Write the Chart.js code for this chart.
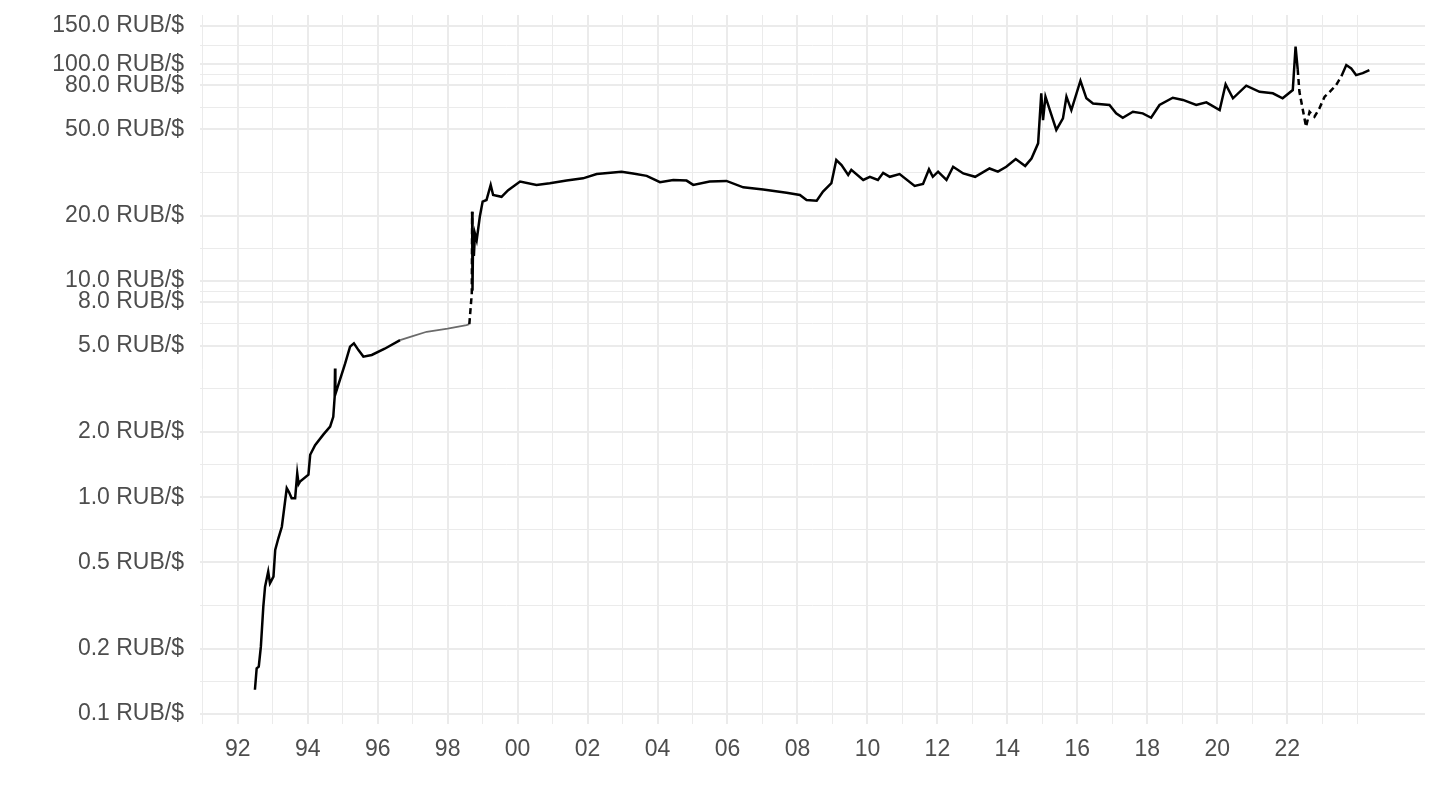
<!DOCTYPE html>
<html>
<head>
<meta charset="utf-8">
<script src="https://cdn.jsdelivr.net/npm/chart.js@4/dist/chart.umd.min.js"></script>
<style>
  html, body { margin: 0; padding: 0; background: #fff; }
  #wrap { width: 1440px; height: 810px; }
</style>
</head>
<body>
<div id="wrap"><canvas id="rubChart" width="1440" height="810"></canvas></div>
<script>
const dates = [
  1992.49, 1992.54, 1992.60, 1992.66, 1992.73, 1992.78, 1992.87, 1992.92, 1993.02, 1993.07,
  1993.16, 1993.26, 1993.40, 1993.47, 1993.54, 1993.64, 1993.70, 1993.74, 1993.78, 1994.02,
  1994.07, 1994.21, 1994.45, 1994.64, 1994.73, 1994.77, 1994.78, 1994.79, 1994.92, 1995.07,
  1995.21, 1995.32, 1995.45, 1995.59, 1995.83, 1996.20, 1996.64, 1997.00, 1997.40, 1998.00,
  1998.54, 1998.62, 1998.69, 1998.70, 1998.71, 1998.73, 1998.75, 1998.78, 1998.83, 1998.92,
  1999.00, 1999.11, 1999.23, 1999.30, 1999.54, 1999.73, 2000.07, 2000.54, 2000.92, 2001.40,
  2001.87, 2002.26, 2002.97, 2003.30, 2003.69, 2004.07, 2004.45, 2004.83, 2005.02, 2005.49,
  2005.97, 2006.45, 2007.02, 2007.69, 2008.07, 2008.26, 2008.55, 2008.73, 2008.97, 2009.11,
  2009.26, 2009.45, 2009.54, 2009.88, 2010.07, 2010.30, 2010.45, 2010.64, 2010.92, 2011.35,
  2011.59, 2011.76, 2011.87, 2012.02, 2012.26, 2012.45, 2012.74, 2013.08, 2013.49, 2013.73,
  2013.97, 2014.24, 2014.51, 2014.69, 2014.88, 2014.97, 2015.02, 2015.09, 2015.40, 2015.59,
  2015.69, 2015.83, 2016.09, 2016.26, 2016.45, 2016.92, 2017.11, 2017.30, 2017.59, 2017.87,
  2018.11, 2018.35, 2018.73, 2019.02, 2019.40, 2019.69, 2020.07, 2020.24, 2020.45, 2020.83,
  2021.21, 2021.59, 2021.87, 2022.16, 2022.24, 2022.30, 2022.35, 2022.44, 2022.54, 2022.64,
  2022.78, 2022.92, 2023.07, 2023.20, 2023.40, 2023.55, 2023.69, 2023.83, 2023.97, 2024.16,
  2024.35
];
// RUB per USD
const rubPerUsd = [
  0.129, 0.162, 0.165, 0.204, 0.312, 0.386, 0.453, 0.40, 0.43, 0.57,
  0.646, 0.73, 1.10, 1.05, 0.99, 0.99, 1.29, 1.15, 1.18, 1.27,
  1.57, 1.74, 1.95, 2.12, 2.35, 2.91, 3.93, 2.99, 3.48, 4.15,
  4.96, 5.14, 4.78, 4.46, 4.54, 4.85, 5.32, 5.55, 5.81, 6.00,
  6.24, 6.30, 8.75, 20.8, 9.0, 17.0, 13.0, 16.5, 15.4, 19.8,
  23.2, 23.6, 27.7, 24.9, 24.4, 26.2, 28.7, 27.7, 28.2, 29.0,
  29.7, 31.1, 31.9, 31.3, 30.5, 28.5, 29.2, 29.0, 27.7, 28.7,
  28.9, 27.0, 26.4, 25.5, 24.9, 23.6, 23.4, 25.8, 28.2, 36.1,
  34.2, 30.8, 32.5, 29.2, 30.2, 29.2, 31.5, 30.2, 31.1, 27.4,
  28.0, 32.7, 30.2, 31.9, 29.2, 33.6, 31.3, 30.2, 33.0, 31.9,
  33.6, 36.5, 33.9, 36.7, 43.1, 73.4, 55.2, 70.8, 49.7, 56.2,
  70.8, 61.4, 83.9, 69.6, 65.9, 64.8, 59.3, 56.6, 60.3, 59.3,
  56.6, 64.8, 70.0, 68.4, 64.8, 66.7, 61.4, 80.8, 69.6, 79.6,
  74.6, 73.4, 69.6, 76.0, 120.5, 95.0, 74.6, 62.5, 51.4, 60.3,
  57.2, 62.5, 70.8, 74.0, 80.2, 88.0, 99.1, 95.7, 89.1, 91.0,
  94.0
];

// axis breaks
const yBreaks = [0.1, 0.2, 0.5, 1, 2, 5, 8, 10, 20, 50, 80, 100, 150];
const xYears = [];
for (let y = 1991; y <= 2024; y++) xYears.push(y);
const labelledYears = [1992, 1994, 1996, 1998, 2000, 2002, 2004, 2006, 2008, 2010, 2012, 2014, 2016, 2018, 2020, 2022];

// minor y lines sit half way (in log space) between two breaks
const yMinor = [];
for (let i = 0; i < yBreaks.length - 1; i++) {
  yMinor.push(Math.sqrt(yBreaks[i] * yBreaks[i + 1]));
}

const points = dates.map((d, i) => ({ x: d, y: rubPerUsd[i] }));

const gridColor = '#EBEBEB';
const textColor = '#4D4D4D';
const fontSpec = { family: 'Liberation Sans, Arial, sans-serif', size: 23 };

function inRange(ctx, a, b) {
  const x = ctx.p0.parsed.x;
  return x >= a && x < b;
}

const ctx = document.getElementById('rubChart').getContext('2d');
const rubChart = new Chart(ctx, {
  type: 'line',
  data: {
    datasets: [{
      data: points,
      borderColor: '#000000',
      borderWidth: 2.5,
      pointRadius: 0,
      tension: 0,
      fill: false,
      segment: {
        borderDash: (c) => (inRange(c, 1998.61, 1998.695) || inRange(c, 2022.3, 2023.45)) ? [6, 4] : undefined,
        borderColor: (c) => inRange(c, 1996.3, 1998.61) ? '#6b6b6b' : undefined,
        borderWidth: (c) => inRange(c, 1996.3, 1998.61) ? 1.8 : undefined
      }
    }]
  },
  options: {
    responsive: false,
    animation: false,
    layout: { padding: { left: 0, right: 15, top: 15, bottom: 0 } },
    plugins: {
      legend: { display: false },
      tooltip: { enabled: false }
    },
    scales: {
      x: {
        type: 'linear',
        min: 1990.92,
        max: 2025.94,
        border: { display: false },
        afterBuildTicks: (scale) => {
          scale.ticks = xYears.map(v => ({ value: v }));
        },
        afterFit: (scale) => {
          scale.height = 86;
          scale.paddingLeft = 0;
          scale.paddingRight = 0;
        },
        grid: {
          color: gridColor,
          drawTicks: false,
          lineWidth: (c) => (c.tick && labelledYears.includes(c.tick.value)) ? 2 : 1
        },
        ticks: {
          autoSkip: false,
          maxRotation: 0,
          padding: 12,
          color: textColor,
          font: fontSpec,
          callback: (v) => labelledYears.includes(v) ? String(v).slice(2) : ''
        }
      },
      y: {
        type: 'logarithmic',
        min: 0.0896,
        max: 168.8,
        border: { display: false },
        afterBuildTicks: (scale) => {
          const all = yBreaks.concat(yMinor).sort((a, b) => a - b);
          scale.ticks = all.map(v => ({ value: v }));
        },
        afterFit: (scale) => {
          scale.width = 200;
          scale.paddingTop = 0;
          scale.paddingBottom = 0;
        },
        grid: {
          color: gridColor,
          drawTicks: false,
          lineWidth: (c) => (c.tick && yBreaks.includes(c.tick.value)) ? 2 : 1
        },
        ticks: {
          autoSkip: false,
          padding: 16,
          color: textColor,
          font: fontSpec,
          callback: (v) => yBreaks.includes(v) ? v.toFixed(1) + ' RUB/$' : ''
        }
      }
    }
  }
});
</script>
</body>
</html>
